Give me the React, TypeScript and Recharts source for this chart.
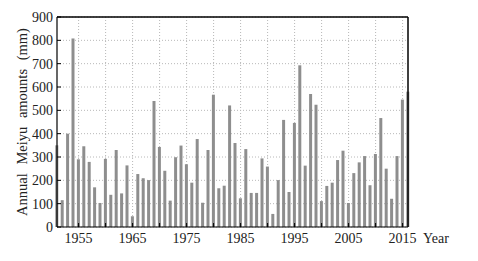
import { BarChart, Bar, XAxis, YAxis, CartesianGrid, ReferenceLine } from 'recharts'

const years = [
  1951, 1952, 1953, 1954, 1955, 1956, 1957, 1958, 1959, 1960,
  1961, 1962, 1963, 1964, 1965, 1966, 1967, 1968, 1969, 1970,
  1971, 1972, 1973, 1974, 1975, 1976, 1977, 1978, 1979, 1980,
  1981, 1982, 1983, 1984, 1985, 1986, 1987, 1988, 1989, 1990,
  1991, 1992, 1993, 1994, 1995, 1996, 1997, 1998, 1999, 2000,
  2001, 2002, 2003, 2004, 2005, 2006, 2007, 2008, 2009, 2010,
  2011, 2012, 2013, 2014, 2015, 2016,
]

const amounts = [
  350, 115, 400, 808, 290, 346, 279, 170, 103, 292,
  138, 330, 144, 264, 46, 227, 209, 201, 540, 343,
  241, 113, 299, 349, 269, 190, 377, 104, 330, 567,
  166, 177, 521, 360, 123, 334, 146, 146, 294, 259,
  56, 201, 459, 150, 446, 693, 263, 570, 524, 111,
  176, 190, 287, 327, 103, 231, 277, 304, 179, 313,
  467, 250, 121, 304, 546, 580,
]

const xTicks = [1955, 1960, 1965, 1970, 1975, 1980, 1985, 1990, 1995, 2000, 2005, 2010, 2015]
const xLabels = [1955, 1965, 1975, 1985, 1995, 2005, 2015]
const yTicks = [0, 100, 200, 300, 400, 500, 600, 700, 800, 900]

const data = years.map((year, i) => ({ year, amount: amounts[i] }))

const font = '"Liberation Serif", "DejaVu Serif", serif'

const XTick = (props: any) => {
  const { x, y, payload } = props
  return (
    <g>
      <line x1={x} y1={y} x2={x} y2={y - 4} stroke="#000" strokeWidth={1} />
      {xLabels.includes(payload.value) && (
        <text x={x} y={y + 16} textAnchor="middle" fontSize={14} fontFamily={font} fill="#222">
          {payload.value}
        </text>
      )}
    </g>
  )
}

const YTick = (props: any) => {
  const { x, y, payload } = props
  return (
    <g>
      <line x1={x} y1={y} x2={x + 4} y2={y} stroke="#000" strokeWidth={1} />
      <text x={x - 4} y={y + 5} textAnchor="end" fontSize={14} fontFamily={font} fill="#222">
        {payload.value}
      </text>
    </g>
  )
}

// rotated axis title, centred on the plot height
const YTitle = (props: any) => {
  const { viewBox } = props
  const cx = viewBox.x + 22
  const cy = viewBox.y + viewBox.height / 2
  return (
    <text x={cx} y={cy} transform={`rotate(-90 ${cx} ${cy})`} textAnchor="middle" dominantBaseline="central"
      fontSize={14.5} fontFamily={font} fill="#222" wordSpacing={5}>
      Annual Meiyu amounts (mm)
    </text>
  )
}

const XTitle = (props: any) => {
  const { viewBox } = props
  return (
    <text x={viewBox.x + viewBox.width + 15} y={viewBox.y + 16} fontSize={14} fontFamily={font} fill="#222">
      Year
    </text>
  )
}

export default function App() {
  return (
    <div style={{ position: 'absolute', left: 0, top: 0, background: '#fff' }}>
      <BarChart width={478} height={261} data={data} margin={{ top: 17, right: 70, bottom: 10, left: 0 }}>
        <CartesianGrid stroke="#b8b8b8" strokeDasharray="1 2" verticalValues={xTicks} />
        <XAxis
          dataKey="year"
          type="number"
          domain={[1951, 2016]}
          ticks={xTicks}
          interval={0}
          height={24}
          tickLine={false}
          tickSize={0}
          tickMargin={0}
          tick={<XTick />}
          axisLine={{ stroke: '#000', strokeWidth: 1.2 }}
          label={<XTitle />}
        />
        <YAxis
          domain={[0, 900]}
          ticks={yTicks}
          interval={0}
          width={57}
          tickLine={false}
          tickSize={0}
          tickMargin={0}
          tick={<YTick />}
          axisLine={{ stroke: '#000', strokeWidth: 1.2 }}
          label={<YTitle />}
        />
        <ReferenceLine y={900} stroke="#000" strokeWidth={1.5} />
        <ReferenceLine x={2016} stroke="#000" strokeWidth={1.5} />
        <Bar dataKey="amount" fill="#8e8e8e" barSize={3} isAnimationActive={false} />
      </BarChart>
    </div>
  )
}
